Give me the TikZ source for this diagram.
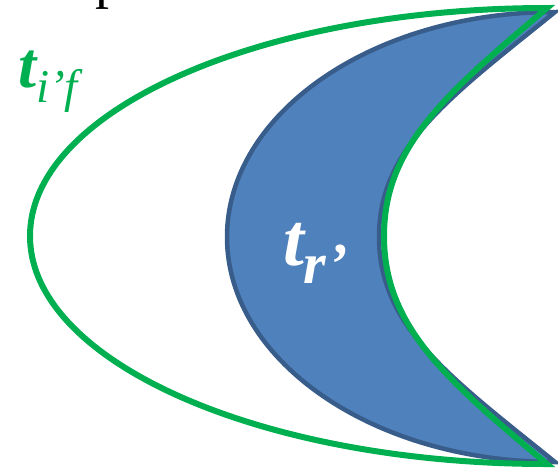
\documentclass[tikz,border=0pt]{standalone}
\usepackage{fontspec}
\setmainfont{Liberation Serif}
\definecolor{grn}{HTML}{00B050}
\definecolor{bfill}{HTML}{4F81BD}
\definecolor{bline}{HTML}{385D8A}
\tikzset{
  lbl/.style={inner sep=0pt, outer sep=0pt, anchor=base west},
  greenline/.style={draw=grn, line width=6pt, line join=miter},
  bluecrescent/.style={draw=bline, fill=bfill, line width=4.5pt, line join=miter}
}
\begin{document}
\begin{tikzpicture}[x=1pt,y=-1pt]
\useasboundingbox (0,0) rectangle (558,467);
% blue crescent
\path[bluecrescent] (555,12)
  .. controls (373.8,12) and (227,112.7) .. (227,237)
  .. controls (227,361.3) and (373.8,462) .. (555,462)
  .. controls (451,378) and (379,327) .. (379,237)
  .. controls (379,147) and (451,96) .. cycle;
% green crescent outline
\path[greenline] (547,8)
  .. controls (261.5,8) and (30,110) .. (30,236)
  .. controls (30,362) and (261.5,464) .. (547,464)
  .. controls (447,380) and (384,327) .. (384,236)
  .. controls (384,146) and (447,93) .. cycle;
% labels
\node[lbl] (topfrag) at (95,-3) {\fontsize{56}{56}\selectfont p};
\node[lbl, text=grn] (tif) at (18,87)
  {\fontsize{65}{65}\selectfont\bfseries\itshape t\raisebox{-15pt}{\fontsize{47}{47}\selectfont\mdseries\itshape i’f}};
\node[lbl, text=white] (tr) at (283,265)
  {\fontsize{75}{75}\selectfont\bfseries\itshape t\raisebox{-18pt}{\fontsize{58}{58}\selectfont\bfseries\itshape r’}};
\end{tikzpicture}
\end{document}
